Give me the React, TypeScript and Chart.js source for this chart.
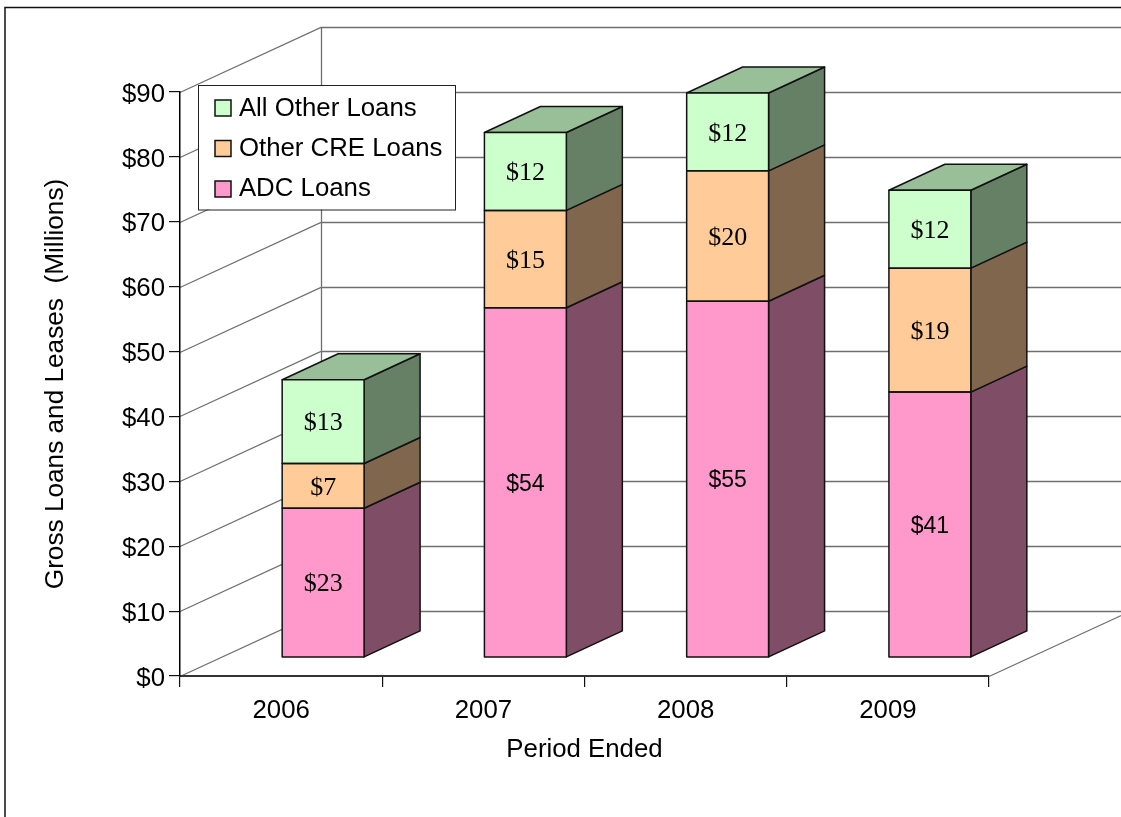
import React, { useEffect, useRef } from "react";
import { Chart, registerables } from "chart.js";

Chart.register(...registerables);

const periods = ["2006", "2007", "2008", "2009"];
const adcLoans = [23, 53.9, 54.9, 40.9];
const otherCreLoans = [6.9, 15, 20.1, 19.1];
const allOtherLoans = [12.9, 12, 12, 12];
const seriesNames = ["ADC Loans", "Other CRE Loans", "All Other Loans"];
const frontColors = ["#FF99CC", "#FFCC99", "#CCFFCC"];
const sideColors = ["#804D66", "#80664D", "#668066"];
const topColor = "#99BF99";

const SANS = "'Liberation Sans', Arial, sans-serif";
const SERIF = "'Liberation Serif', 'Times New Roman', serif";
const AXIS_FONT = 25.8;
const WALL = { dx: 141, dy: -65 };
const BAR_PLANE = { dx: 42, dy: -18.5 };
const BAR_DEPTH = { dx: 56, dy: -26 };
const LEGEND_BOX = { left: 198, top: 85, right: 455, bottom: 209.5 };
const LEGEND_SWATCH = { x: 215, y: 100, size: 16, row: 40.5 };
const Y_LABEL_SHIFT = 2.5;

const scene = {
  id: "scene",
  beforeLayout(chart: any) {
    // the legend floats over the plot, so it must take no room from the layout
    const l = chart.legend;
    if (!l || l.__floating) return;
    l.__floating = true;
    const fit = l.fit;
    l.fit = function () {
      fit.call(this);
      this.height = 0;
    };
  },
  beforeDraw(chart: any) {
    const { ctx, chartArea: a, scales } = chart;
    // the value labels sit slightly under their tick in the reference
    const items = scales.y.getLabelItems(a);
    if (!items.__shifted) {
      items.__shifted = true;
      items.forEach((it: any) => { it.options.translation[1] += Y_LABEL_SHIFT; });
    }
    ctx.save();
    ctx.fillStyle = "#fff";
    ctx.fillRect(0, 0, chart.width, chart.height);
    ctx.strokeStyle = "#111";
    ctx.lineWidth = 1.5;
    ctx.strokeRect(5, 7.5, chart.width + 20, chart.height + 20);
    ctx.strokeStyle = "#6f6f6f";
    ctx.lineWidth = 1.3;
    ctx.beginPath();
    for (const t of scales.y.ticks) {
      const y = Math.round(scales.y.getPixelForValue(t.value)) + 0.5;
      ctx.moveTo(a.left, y);
      ctx.lineTo(a.left + WALL.dx, y + WALL.dy);
      ctx.lineTo(chart.width + 5, y + WALL.dy);
    }
    ctx.moveTo(a.left + WALL.dx + 0.5, a.top + WALL.dy);
    ctx.lineTo(a.left + WALL.dx + 0.5, a.bottom + WALL.dy);
    ctx.moveTo(a.right, a.bottom + 0.5);
    ctx.lineTo(a.right + WALL.dx, a.bottom + WALL.dy + 0.5);
    ctx.stroke();
    ctx.fillStyle = "#fff";
    ctx.fillRect(LEGEND_BOX.left, LEGEND_BOX.top, LEGEND_BOX.right - LEGEND_BOX.left, LEGEND_BOX.bottom - LEGEND_BOX.top);
    ctx.strokeStyle = "#222";
    ctx.lineWidth = 1;
    ctx.strokeRect(LEGEND_BOX.left + 0.5, LEGEND_BOX.top + 0.5, LEGEND_BOX.right - LEGEND_BOX.left, LEGEND_BOX.bottom - LEGEND_BOX.top);
    ctx.restore();
  },
  afterLayout(chart: any) {
    const l = chart.legend;
    if (!l) return;
    l.left = LEGEND_SWATCH.x - l.options.labels.padding;
    l.top = LEGEND_BOX.top - 3;
    l.right = LEGEND_BOX.right;
    l.bottom = LEGEND_BOX.bottom;
  },
  beforeDatasetsDraw(chart: any) {
    const { ctx } = chart;
    ctx.save();
    ctx.translate(BAR_PLANE.dx, BAR_PLANE.dy);
    const n = chart.data.datasets.length;
    ctx.lineWidth = 1.5;
    ctx.strokeStyle = "#111";
    ctx.lineJoin = "round";
    for (let d = 0; d < n; d++) {
      chart.getDatasetMeta(d).data.forEach((bar: any) => {
        const right = bar.x + bar.width / 2;
        const left = bar.x - bar.width / 2;
        ctx.fillStyle = sideColors[d];
        ctx.beginPath();
        ctx.moveTo(right, bar.y);
        ctx.lineTo(right + BAR_DEPTH.dx, bar.y + BAR_DEPTH.dy);
        ctx.lineTo(right + BAR_DEPTH.dx, bar.base + BAR_DEPTH.dy);
        ctx.lineTo(right, bar.base);
        ctx.closePath();
        ctx.fill();
        ctx.stroke();
        if (d === n - 1) {
          ctx.fillStyle = topColor;
          ctx.beginPath();
          ctx.moveTo(left, bar.y);
          ctx.lineTo(left + BAR_DEPTH.dx, bar.y + BAR_DEPTH.dy);
          ctx.lineTo(right + BAR_DEPTH.dx, bar.y + BAR_DEPTH.dy);
          ctx.lineTo(right, bar.y);
          ctx.closePath();
          ctx.fill();
          ctx.stroke();
        }
      });
    }
  },
  afterDatasetsDraw(chart: any) {
    const { ctx } = chart;
    ctx.textAlign = "center";
    ctx.textBaseline = "middle";
    ctx.fillStyle = "#000";
    chart.data.datasets.forEach((ds: any, d: number) => {
      chart.getDatasetMeta(d).data.forEach((bar: any, i: number) => {
        ctx.strokeRect(bar.x - bar.width / 2, bar.y, bar.width, bar.base - bar.y);
        // the three tall pink bars carry a sans label, every other label is serif
        ctx.font = d === 0 && i > 0 ? `23px ${SANS}` : `26px ${SERIF}`;
        ctx.fillText(`$${Math.round(ds.data[i])}`, bar.x, (bar.y + bar.base) / 2 + 2);
      });
    });
    ctx.restore();
  },
  afterDraw(chart: any) {
    // legend swatches are wider than the gap Chart.js leaves before the text
    const { ctx, legend } = chart;
    if (!legend) return;
    ctx.save();
    ctx.lineWidth = 1.5;
    ctx.strokeStyle = "#111";
    legend.legendItems.forEach((item: any, i: number) => {
      const y = LEGEND_SWATCH.y + i * LEGEND_SWATCH.row;
      ctx.fillStyle = item.fillStyle;
      ctx.fillRect(LEGEND_SWATCH.x, y, LEGEND_SWATCH.size, LEGEND_SWATCH.size);
      ctx.strokeRect(LEGEND_SWATCH.x, y, LEGEND_SWATCH.size, LEGEND_SWATCH.size);
    });
    ctx.restore();
  },
};

export default function App() {
  const ref = useRef<HTMLCanvasElement>(null);
  useEffect(() => {
    const series = [adcLoans, otherCreLoans, allOtherLoans];
    const chart = new Chart(ref.current!, {
      type: "bar",
      plugins: [scene],
      data: {
        labels: periods,
        datasets: series.map((data, i) => ({
          label: seriesNames[i],
          data,
          backgroundColor: frontColors[i],
          borderWidth: 0,
          categoryPercentage: 1,
          barPercentage: 0.405,
        })),
      },
      options: {
        animation: false,
        responsive: false,
        layout: { padding: { left: 0, right: 132, top: 92, bottom: 41 } },
        plugins: {
          tooltip: { enabled: false },
          legend: {
            position: "top",
            align: "start",
            reverse: true,
            labels: {
              color: "#000",
              font: { family: SANS, size: AXIS_FONT },
              boxWidth: 11,
              boxHeight: 10,
              padding: 14,
            },
          } as any,
        },
        scales: {
          x: {
            stacked: true,
            afterFit(s: any) { s.height = 100; },
            grid: { drawOnChartArea: false, tickLength: 11, color: "#111", lineWidth: 1.2 },
            border: { color: "#333", width: 2 },
            ticks: { color: "#000", font: { family: SANS, size: AXIS_FONT }, padding: 8, maxRotation: 0 },
            title: { display: true, text: "Period Ended", color: "#000", font: { family: SANS, size: AXIS_FONT }, padding: { top: 0, bottom: 11 } },
          },
          y: {
            stacked: true,
            min: 0,
            max: 90,
            afterFit(s: any) { s.width = 180; },
            grid: { drawOnChartArea: false, tickLength: 11, color: "#111", lineWidth: 1.2 },
            border: { color: "#000", width: 1.5 },
            ticks: { color: "#000", stepSize: 10, font: { family: SANS, size: AXIS_FONT }, padding: 4, callback: (v: any) => `$${v}` },
            title: { display: true, text: "Gross Loans and Leases  (Millions)", color: "#000", font: { family: SANS, size: 26.2 }, padding: { top: 40, bottom: 0 } },
          },
        },
      },
    } as any);
    return () => chart.destroy();
  }, []);
  return (
    <div style={{ position: "fixed", left: 0, top: 0, width: 1121, height: 817, overflow: "hidden", background: "#fff" }}>
      <canvas ref={ref} width={1121} height={817} style={{ display: "block" }} />
    </div>
  );
}
